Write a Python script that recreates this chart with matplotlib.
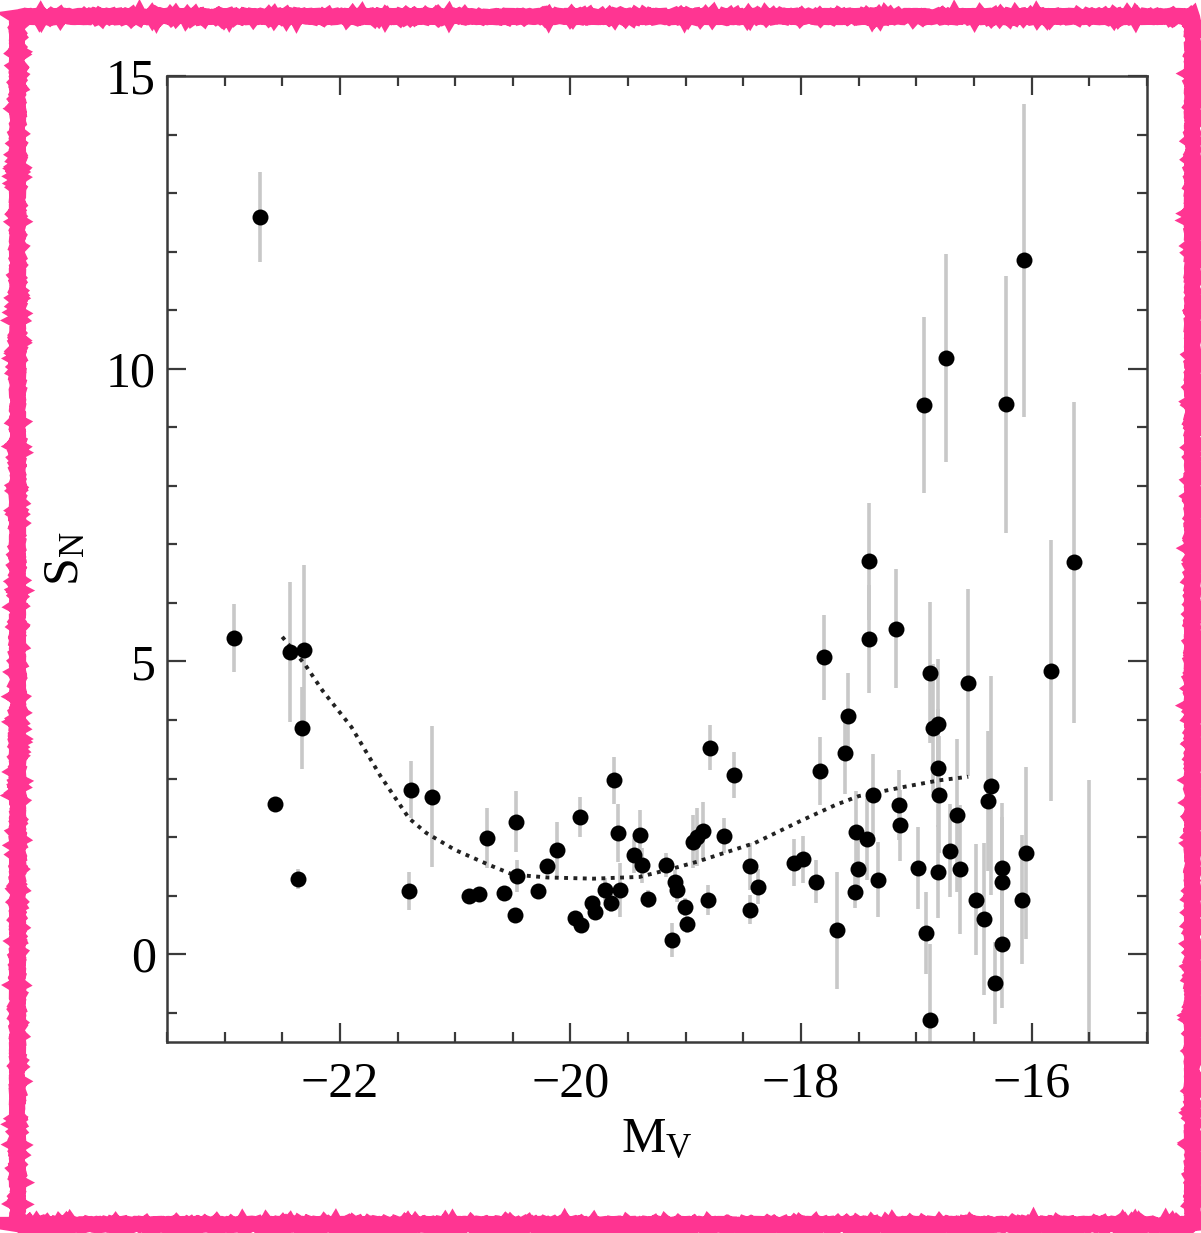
import matplotlib
matplotlib.use("Agg")
import matplotlib.pyplot as plt
from matplotlib.patches import Rectangle
from matplotlib.ticker import MultipleLocator

# ---------------- data ----------------
mv = [-22.92, -22.69, -22.43, -22.31, -22.33, -22.56, -22.36,
      -21.38, -21.20, -21.40, -20.88, -20.79, -20.72, -20.47, -20.46,
      -20.58, -20.48, -20.28, -20.20, -20.12, -19.92, -19.96, -19.91,
      -19.81, -19.79, -19.70, -19.65, -19.62, -19.59, -19.57, -19.40,
      -19.45, -19.38, -19.33, -19.17, -19.09, -19.08, -19.01, -18.99,
      -19.12, -18.81, -18.94, -18.90, -18.85, -18.67, -18.79, -18.58,
      -18.44, -18.37, -18.44, -18.06, -17.98, -17.87, -17.84, -17.69,
      -17.80, -17.59, -17.62, -17.41, -17.41, -17.18, -17.52, -17.43,
      -17.38, -17.51, -17.53, -17.33, -17.15, -17.14, -16.99, -16.92,
      -16.88, -16.88, -16.86, -16.81, -16.81, -16.80, -16.81, -16.71,
      -16.65, -16.62, -16.55, -16.35, -16.38, -16.48, -16.41, -16.32,
      -16.26, -16.26, -16.26, -16.05, -16.08, -15.83, -15.63, -16.22,
      -16.07, -16.93, -16.74, -15.50]
sn = [5.40, 12.59, 5.16, 5.20, 3.86, 2.56, 1.28,
      2.81, 2.69, 1.08, 0.99, 1.03, 1.98, 2.26, 1.34,
      1.05, 0.67, 1.08, 1.50, 1.78, 2.35, 0.61, 0.50,
      0.87, 0.72, 1.10, 0.87, 2.97, 2.07, 1.10, 2.04,
      1.69, 1.52, 0.94, 1.52, 1.24, 1.09, 0.81, 0.51,
      0.25, 0.93, 1.92, 2.00, 2.10, 2.02, 3.53, 3.06,
      1.50, 1.15, 0.76, 1.56, 1.62, 1.24, 3.13, 0.41,
      5.07, 4.07, 3.44, 5.38, 6.71, 5.56, 2.09, 1.96,
      2.72, 1.45, 1.07, 1.27, 2.55, 2.20, 1.48, 0.36,
      -1.13, 4.81, 3.86, 3.94, 3.18, 2.72, 1.41, 1.77,
      2.37, 1.45, 4.64, 2.88, 2.62, 0.93, 0.60, -0.49,
      1.48, 1.24, 0.18, 1.73, 0.93, 4.84, 6.69, 9.39,
      11.85, 9.38, 10.18, -2.00]
sn_err = [0.58, 0.77, 1.19, 1.45, 0.70, 0.00, 0.17,
          0.49, 1.20, 0.32, 0.08, 0.08, 0.51, 0.52, 0.27,
          0.10, 0.10, 0.10, 0.10, 0.47, 0.34, 0.08, 0.08,
          0.10, 0.10, 0.20, 0.15, 0.40, 0.50, 0.46, 0.42,
          0.30, 0.30, 0.15, 0.20, 0.20, 0.20, 0.15, 0.15,
          0.29, 0.26, 0.45, 0.50, 0.50, 0.30, 0.38, 0.40,
          0.40, 0.30, 0.25, 0.40, 0.40, 0.37, 0.58, 1.00,
          0.73, 0.73, 0.70, 0.92, 1.00, 1.02, 0.70, 0.70,
          0.70, 0.50, 0.28, 0.64, 0.60, 0.60, 0.70, 0.70,
          1.30, 1.20, 1.10, 1.10, 1.00, 1.00, 0.80, 0.80,
          1.30, 1.10, 1.60, 1.87, 1.20, 0.95, 1.30, 0.70,
          1.10, 1.10, 1.10, 1.47, 1.10, 2.23, 2.74, 2.20,
          2.67, 1.51, 1.78, 4.97]

# dotted trend curve
curve_x = [-22.50, -22.30, -22.15, -21.90, -21.65, -21.40, -21.25, -21.00,
           -20.70, -20.50, -20.20, -19.80, -19.40, -19.10, -18.90, -18.40,
           -18.00, -17.70, -17.50, -17.10, -16.80, -16.55]
curve_y = [5.42, 4.94, 4.50, 3.88, 3.05, 2.32, 2.07, 1.78,
           1.52, 1.36, 1.31, 1.29, 1.32, 1.47, 1.58, 1.90,
           2.28, 2.55, 2.70, 2.86, 2.97, 3.03]

x_ticks = [-22, -20, -18, -16]
y_ticks = [0, 5, 10, 15]

# ---------------- style ----------------
plt.rcParams['font.family'] = ['Liberation Serif', 'DejaVu Serif']
plt.rcParams['mathtext.fontset'] = 'custom'
plt.rcParams['mathtext.rm'] = 'Liberation Serif'
plt.rcParams['mathtext.it'] = 'Liberation Serif'
plt.rcParams['axes.unicode_minus'] = True

fig = plt.figure(figsize=(12.01, 12.33), dpi=100)
ax = fig.add_axes([0.139, 0.1549, 0.816, 0.7835])

lo = [s - e for s, e in zip(sn, sn_err)]
hi = [s + e for s, e in zip(sn, sn_err)]
ax.vlines(mv, lo, hi, colors='#c8c8c8', linewidth=2.6, zorder=1)
ax.plot(curve_x, curve_y, color='#222222', linewidth=2.8,
        linestyle=(0, (1, 1.4)), zorder=2)
ax.plot(mv, sn, linestyle='none', marker='o', markersize=11.5,
        color='black', markeredgewidth=0, zorder=3)

ax.set_xlim(-23.5, -15.0)
ax.set_ylim(-1.5, 15.0)
ax.set_xticks(x_ticks)
ax.set_yticks(y_ticks)
ax.xaxis.set_minor_locator(MultipleLocator(0.5))
ax.yaxis.set_minor_locator(MultipleLocator(1))

for sp in ax.spines.values():
    sp.set_linewidth(1.8)
    sp.set_color('#3a3a3a')

ax.tick_params(which='both', direction='in', top=True, right=True,
               color='#3a3a3a', width=1.6)
ax.tick_params(which='major', length=14, labelsize=36)
ax.tick_params(which='minor', length=7)
ax.tick_params(axis='x', which='major', pad=14)
ax.tick_params(axis='y', which='major', pad=8)

ax.set_xlabel(r'M$_\mathrm{V}$', fontsize=36, labelpad=6)
ax.set_ylabel(r'S$_\mathrm{N}$', fontsize=36, labelpad=12)

# pink hand-drawn frame
frame = Rectangle((17 / 1201, 9 / 1233), 1175 / 1201, 1208 / 1233,
                  transform=fig.transFigure, fill=False,
                  edgecolor='#ff3592', linewidth=11, zorder=10)
frame.set_sketch_params(scale=1.0, length=4, randomness=10)
fig.patches.append(frame)

fig.savefig('out.png', dpi=100, facecolor='white')
